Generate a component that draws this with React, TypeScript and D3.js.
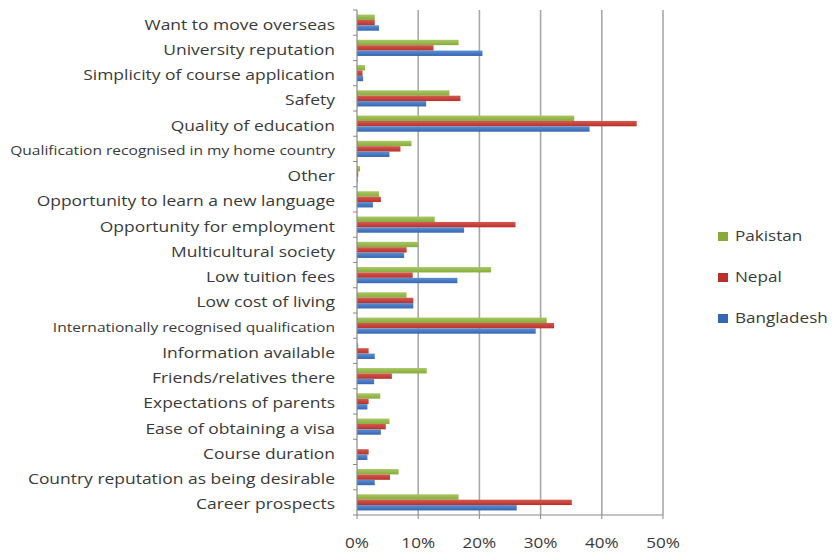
import React from "react";
import * as d3 from "d3";

const categories = [
  "Want to move overseas",
  "University reputation",
  "Simplicity of course application",
  "Safety",
  "Quality of education",
  "Qualification recognised in my home country",
  "Other",
  "Opportunity to learn a new language",
  "Opportunity for employment",
  "Multicultural society",
  "Low tuition fees",
  "Low cost of living",
  "Internationally recognised qualification",
  "Information available",
  "Friends/relatives there",
  "Expectations of parents",
  "Ease of obtaining a visa",
  "Course duration",
  "Country reputation as being desirable",
  "Career prospects",
];

const seriesNames = ["Pakistan", "Nepal", "Bangladesh"];

const pakistan = [2.9, 16.6, 1.3, 15.1, 35.5, 8.9, 0.5, 3.6, 12.7, 10.0, 21.9, 8.1, 31.0, 0.2, 11.4, 3.8, 5.3, 0, 6.8, 16.6];
const nepal = [2.9, 12.5, 0.9, 16.9, 45.7, 7.1, 0.2, 3.9, 25.9, 8.1, 9.1, 9.2, 32.2, 1.9, 5.7, 1.9, 4.7, 1.9, 5.4, 35.1];
const bangladesh = [3.6, 20.5, 1.0, 11.3, 38.0, 5.3, 0.1, 2.6, 17.5, 7.7, 16.4, 9.2, 29.2, 2.9, 2.8, 1.7, 3.9, 1.7, 2.9, 26.1];

const xTicks = [0, 10, 20, 30, 40, 50];

const seriesValues = [pakistan, nepal, bangladesh];
const colorsTop = ["#a9c865", "#d35a50", "#5d8fd0"];
const colorsBottom = ["#86ab3a", "#b9302a", "#3566b3"];

export default function App() {
  const width = 840;
  const height = 553;
  const x = d3.scaleLinear().domain([0, 50]).range([357, 663]);
  const y = d3
    .scaleBand<string>()
    .domain(categories)
    .range([10, 515])
    .paddingInner(0.36)
    .paddingOuter(0.18);
  const sub = d3
    .scaleBand<string>()
    .domain(seriesNames)
    .range([0, y.bandwidth()]);
  const step = y.step();
  const font = "'Open Sans', 'DejaVu Sans', sans-serif";
  const textColor = "#3a3a3a";
  const sx = 1.18;

  return (
    <svg
      width={width}
      height={height}
      style={{ position: "absolute", left: 0, top: 0, background: "#fff" }}
      fontFamily={font}
    >
      <defs>
        {seriesNames.map((s, i) => (
          <linearGradient key={s} id={`g${i}`} x1="0" y1="0" x2="0" y2="1">
            <stop offset="0" stopColor={colorsTop[i]} />
            <stop offset="1" stopColor={colorsBottom[i]} />
          </linearGradient>
        ))}
      </defs>
      <rect x={0} y={0} width={width} height={height} fill="#fff" />
      {/* gridlines */}
      {xTicks.slice(1).map((t) => (
        <line
          key={t}
          x1={x(t)}
          x2={x(t)}
          y1={10}
          y2={515}
          stroke="#a8a8a8"
          strokeWidth={1.6}
        />
      ))}
      {/* bars */}
      {categories.map((c, ci) => (
        <g key={c} transform={`translate(0,${y(c)})`}>
          {seriesNames.map((s, si) => (
            <rect
              key={s}
              x={x(0)}
              y={sub(s)}
              width={x(seriesValues[si][ci]) - x(0)}
              height={sub.bandwidth()}
              fill={`url(#g${si})`}
            />
          ))}
        </g>
      ))}
      {/* axes */}
      <line x1={x(0)} x2={x(0)} y1={10} y2={515} stroke="#8a8a8a" strokeWidth={1.2} />
      <line x1={x(0)} x2={x(50)} y1={515} y2={515} stroke="#8a8a8a" strokeWidth={1.2} />
      {d3.range(categories.length + 1).map((i) => (
        <line
          key={i}
          x1={x(0) - 4}
          x2={x(0)}
          y1={10 + i * step}
          y2={10 + i * step}
          stroke="#8a8a8a"
          strokeWidth={1}
        />
      ))}
      {xTicks.map((t) => (
        <g key={t}>
          <line x1={x(t)} x2={x(t)} y1={515} y2={519} stroke="#8a8a8a" strokeWidth={1} />
          <text
            transform={`translate(${x(t)},544) scale(${sx},1)`}
            textAnchor="middle"
            dominantBaseline="middle"
            fontSize={14.5}
            fill={textColor}
          >
            {t + "%"}
          </text>
        </g>
      ))}
      {/* category labels */}
      {categories.map((c) => (
        <text
          key={c}
          transform={`translate(335,${(y(c) as number) + y.bandwidth() / 2 + 3}) scale(${sx},1)`}
          textAnchor="end"
          dominantBaseline="middle"
          fontSize={c.length > 38 ? 13.2 : 14.8}
          fill={textColor}
        >
          {c}
        </text>
      ))}
      {/* legend */}
      {seriesNames.map((s, i) => (
        <g key={s} transform={`translate(718,${237 + i * 41})`}>
          <rect x={0} y={-5} width={10} height={9} fill={colorsBottom[i]} />
          <text
            transform={`translate(17,0) scale(${sx},1)`}
            dominantBaseline="middle"
            fontSize={14.5}
            fill={textColor}
          >
            {s}
          </text>
        </g>
      ))}
    </svg>
  );
}
